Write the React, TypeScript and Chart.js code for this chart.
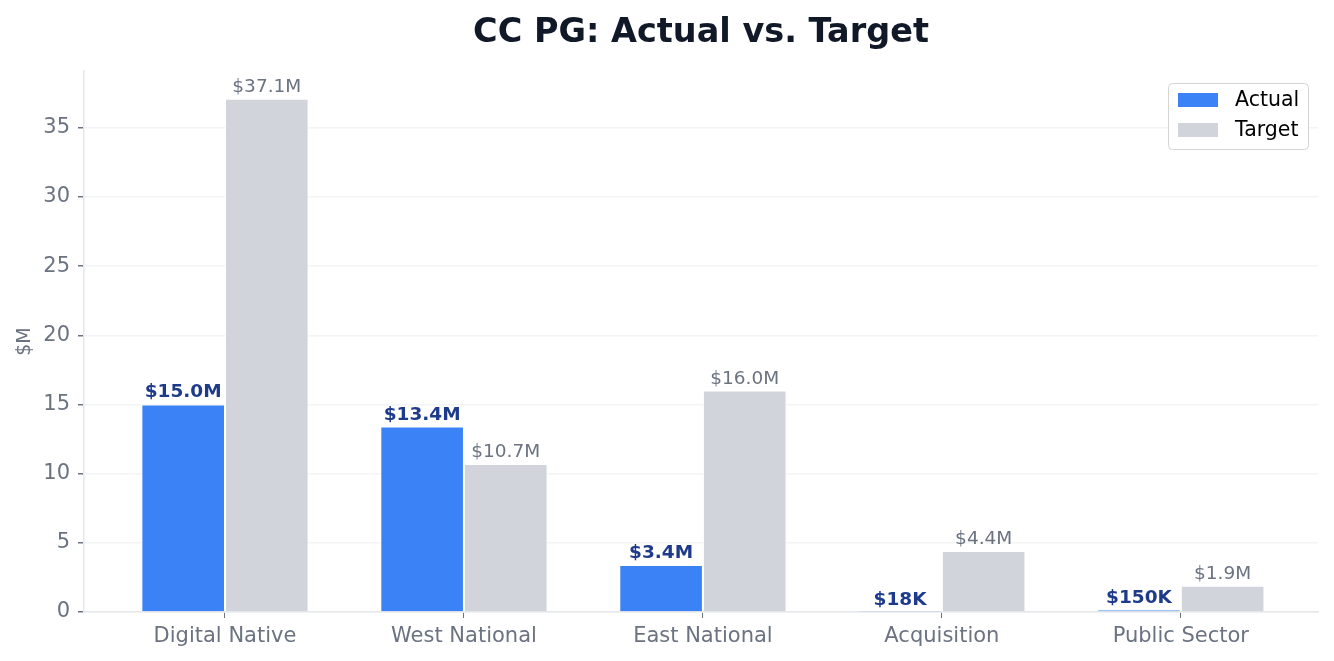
import { useEffect, useRef } from "react";
import { Chart, registerables } from "chart.js";

Chart.register(...registerables);

const categories = ["Digital Native", "West National", "East National", "Acquisition", "Public Sector"];
const actualValues = [15.0, 13.4, 3.4, 0.018, 0.15];
const targetValues = [37.1, 10.7, 16.0, 4.4, 1.9];
const yTicks = [0, 5, 10, 15, 20, 25, 30, 35];
const chartTitle = "CC PG: Actual vs. Target";

const FONT = "'DejaVu Sans', sans-serif";
const BLUE = "#3B82F6";
const GRAY = "#D1D5DB";
const MUTED = "#6B7280";

function fmt(v: number) {
  return v >= 1 ? `$${v.toFixed(1)}M` : `$${Math.round(v * 1000)}K`;
}

// title centred over the plot area (like matplotlib's ax.set_title)
const axesTitle = {
  id: "axesTitle",
  afterDraw(chart: any) {
    const { ctx, chartArea } = chart;
    ctx.save();
    ctx.font = `bold 33.5px ${FONT}`;
    ctx.fillStyle = "#111827";
    ctx.textAlign = "center";
    ctx.textBaseline = "alphabetic";
    ctx.fillText(chartTitle, (chartArea.left + chartArea.right) / 2, 42);
    ctx.restore();
  },
};

// value labels above each bar
const barLabels = {
  id: "barLabels",
  afterDatasetsDraw(chart: any) {
    const ctx = chart.ctx;
    ctx.save();
    ctx.textAlign = "center";
    ctx.textBaseline = "alphabetic";
    chart.data.datasets.forEach((ds: any, di: number) => {
      const meta = chart.getDatasetMeta(di);
      const isActual = di === 0;
      ctx.font = `${isActual ? "bold " : ""}18.5px ${FONT}`;
      ctx.fillStyle = isActual ? "#1E3A8A" : MUTED;
      meta.data.forEach((bar: any, i: number) => {
        ctx.fillText(fmt(ds.data[i].y), bar.x, bar.y - 7);
      });
    });
    ctx.restore();
  },
};

// matplotlib-style legend inside the plot, top right
const boxLegend = {
  id: "boxLegend",
  afterDraw(chart: any) {
    const ctx = chart.ctx;
    const x = 1168;
    const y = 83;
    const w = 140;
    const h = 66;
    ctx.save();
    ctx.beginPath();
    ctx.roundRect(x + 0.5, y + 0.5, w, h, 4);
    ctx.fillStyle = "rgba(255,255,255,0.85)";
    ctx.fill();
    ctx.strokeStyle = "#D4D4D4";
    ctx.lineWidth = 1;
    ctx.stroke();
    ctx.font = `20.5px ${FONT}`;
    ctx.textBaseline = "middle";
    ctx.textAlign = "left";
    chart.data.datasets.forEach((ds: any, i: number) => {
      const cy = y + 17 + i * 30;
      ctx.fillStyle = ds.backgroundColor;
      ctx.fillRect(x + 10, cy - 7, 40, 14);
      ctx.fillStyle = "#000000";
      ctx.fillText(ds.label, x + 67, cy + 1);
    });
    ctx.restore();
  },
};

export default function App() {
  const chartRef = useRef<HTMLCanvasElement>(null);
  const chartInstance = useRef<Chart | null>(null);

  useEffect(() => {
    document.body.style.margin = "0";
    if (!chartRef.current) return;
    if (chartInstance.current) chartInstance.current.destroy();

    chartInstance.current = new Chart(chartRef.current, {
      type: "bar",
      data: {
        datasets: [
          {
            label: "Actual",
            data: actualValues.map((v, i) => ({ x: i, y: v })),
            backgroundColor: BLUE,
            borderColor: "#ffffff",
            borderWidth: 1,
          },
          {
            label: "Target",
            data: targetValues.map((v, i) => ({ x: i, y: v })),
            backgroundColor: GRAY,
            borderColor: "#ffffff",
            borderWidth: 1,
          },
        ],
      },
      options: {
        responsive: false,
        animation: false,
        devicePixelRatio: 1,
        categoryPercentage: 0.7,
        barPercentage: 1,
        layout: { padding: { top: 71, right: 16, bottom: 0, left: 0 } },
        plugins: {
          legend: { display: false },
          tooltip: { enabled: false },
          title: { display: false },
        },
        scales: {
          x: {
            type: "linear",
            min: -0.59,
            max: 4.574,
            offset: false,
            afterBuildTicks: (axis: any) => {
              axis.ticks = categories.map((_, i) => ({ value: i }));
            },
            afterFit: (scale: any) => {
              scale.height = 49;
            },
            ticks: {
              color: MUTED,
              font: { family: FONT, size: 21 },
              padding: 6,
              maxRotation: 0,
              callback: (v: any) => categories[v] ?? "",
            },
            grid: {
              offset: false,
              drawOnChartArea: false,
              tickLength: 6,
              tickColor: MUTED,
            },
            border: { color: "#E5E7EB", width: 1.5 },
          },
          y: {
            min: 0,
            max: 39.1,
            afterBuildTicks: (axis: any) => {
              axis.ticks = yTicks.map((v) => ({ value: v }));
            },
            afterFit: (scale: any) => {
              scale.width = 84;
            },
            ticks: {
              color: MUTED,
              font: { family: FONT, size: 21 },
              padding: 8,
            },
            grid: {
              color: "#F3F4F6",
              lineWidth: 1.5,
              tickLength: 6,
              tickColor: MUTED,
            },
            border: { color: "#E5E7EB", width: 1.5 },
            title: {
              display: true,
              text: "$M",
              color: MUTED,
              font: { family: FONT, size: 19 },
              padding: { top: 14, bottom: 0 },
            },
          },
        },
      },
      plugins: [barLabels, boxLegend, axesTitle],
    });

    return () => {
      if (chartInstance.current) {
        chartInstance.current.destroy();
        chartInstance.current = null;
      }
    };
  }, []);

  return (
    <div style={{ width: 1334, height: 661 }}>
      <canvas ref={chartRef} width={1334} height={661} style={{ width: 1334, height: 661 }}></canvas>
    </div>
  );
}
